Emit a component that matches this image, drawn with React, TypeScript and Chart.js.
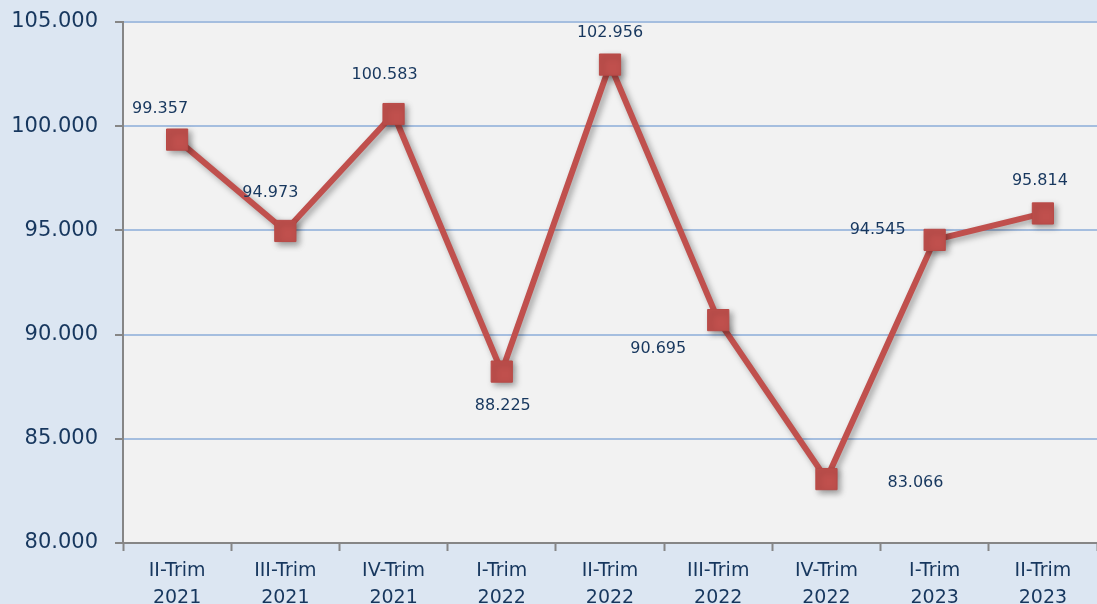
import React, { useEffect, useRef } from "react";
import { Chart, registerables } from "chart.js";

Chart.register(...registerables);

const categories: string[][] = [
  ["II-Trim", "2021"],
  ["III-Trim", "2021"],
  ["IV-Trim", "2021"],
  ["I-Trim", "2022"],
  ["II-Trim", "2022"],
  ["III-Trim", "2022"],
  ["IV-Trim", "2022"],
  ["I-Trim", "2023"],
  ["II-Trim", "2023"],
];

const values: number[] = [99.357, 94.973, 100.583, 88.225, 102.956, 90.695, 83.066, 94.545, 95.814];

const yTicks: number[] = [80, 85, 90, 95, 100, 105];

// label offsets relative to point (dx, dy) – styling only
const labelOffsets: [number, number][] = [
  [-17, -31],
  [-15, -38],
  [-9, -39],
  [1, 34],
  [0, -32],
  [-60, 29],
  [89, 4],
  [-57, -10],
  [-3, -33],
];

const TEXT = "#17375e";
const FONT = "'DejaVu Sans', sans-serif";

const plotBg = {
  id: "plotBg",
  beforeDraw(chart: any) {
    const { ctx, chartArea } = chart;
    ctx.save();
    ctx.fillStyle = "#f2f2f2";
    ctx.fillRect(chartArea.left, chartArea.top, chartArea.right - chartArea.left, chartArea.bottom - chartArea.top);
    ctx.restore();
  },
};

const shadow = {
  id: "shadow",
  beforeDatasetsDraw(chart: any) {
    const ctx = chart.ctx;
    ctx.save();
    ctx.shadowColor = "rgba(0,0,0,0.35)";
    ctx.shadowBlur = 6;
    ctx.shadowOffsetX = 3;
    ctx.shadowOffsetY = 3;
  },
  afterDatasetsDraw(chart: any) {
    chart.ctx.restore();
  },
};

const dataLabels = {
  id: "dataLabels",
  afterDraw(chart: any) {
    const { ctx } = chart;
    const meta = chart.getDatasetMeta(0);
    ctx.save();
    ctx.font = `16px ${FONT}`;
    ctx.fillStyle = TEXT;
    ctx.textAlign = "center";
    ctx.textBaseline = "middle";
    meta.data.forEach((pt: any, i: number) => {
      const [dx, dy] = labelOffsets[i];
      ctx.fillText(values[i].toFixed(3), pt.x + dx, pt.y + dy);
    });
    ctx.restore();
  },
};

export default function App() {
  const ref = useRef<HTMLCanvasElement>(null);
  useEffect(() => {
    if (!ref.current) return;
    const chart = new Chart(ref.current, {
      type: "line",
      data: {
        labels: categories,
        datasets: [
          {
            data: values,
            borderColor: "#c0504d",
            backgroundColor: "#c0504d",
            borderWidth: 6,
            pointStyle: "rect",
            pointRadius: 15,
            pointHoverRadius: 15,
            pointBackgroundColor: "#c0504d",
            pointBorderColor: "#b94a47",
            pointBorderWidth: 1,
            tension: 0,
          },
        ],
      },
      options: {
        animation: false,
        responsive: false,
        maintainAspectRatio: false,
        layout: { autoPadding: false, padding: { top: 22, right: 0, left: 0, bottom: 0 } },
        plugins: { legend: { display: false }, tooltip: { enabled: false } },
        scales: {
          x: {
            offset: true,
            grid: {
              offset: true,
              drawOnChartArea: false,
              drawTicks: true,
              tickLength: 8,
              tickColor: "#868686",
              tickWidth: 2,
            },
            border: { color: "#868686", width: 2 },
            ticks: {
              color: TEXT,
              font: { family: FONT, size: 19, lineHeight: 1.4 },
              padding: 7,
              maxRotation: 0,
              autoSkip: false,
            },
            afterFit(scale: any) {
              scale.height = 61;
              scale.paddingLeft = 0;
              scale.paddingRight = 0;
            },
          },
          y: {
            min: 80,
            max: 105,
            afterBuildTicks(scale: any) {
              scale.ticks = yTicks.map((v) => ({ value: v }));
            },
            grid: {
              color: "#a5bedf",
              lineWidth: 2,
              drawTicks: true,
              tickLength: 8,
              tickColor: "#868686",
              tickWidth: 2,
            },
            border: { color: "#868686", width: 2 },
            ticks: {
              color: TEXT,
              font: { family: FONT, size: 21 },
              padding: 17,
              callback: (v: any) => Number(v).toFixed(3),
            },
            afterFit(scale: any) {
              scale.width = 123;
              scale.paddingTop = 0;
              scale.paddingBottom = 0;
            },
          },
        },
      },
      plugins: [plotBg, shadow, dataLabels],
    });
    return () => chart.destroy();
  }, []);
  return (
    <div style={{ position: "fixed", left: 0, top: 0, width: 1097, height: 604, background: "#dce6f2" }}>
      <canvas ref={ref} width={1097} height={604} style={{ display: "block" }} />
    </div>
  );
}
